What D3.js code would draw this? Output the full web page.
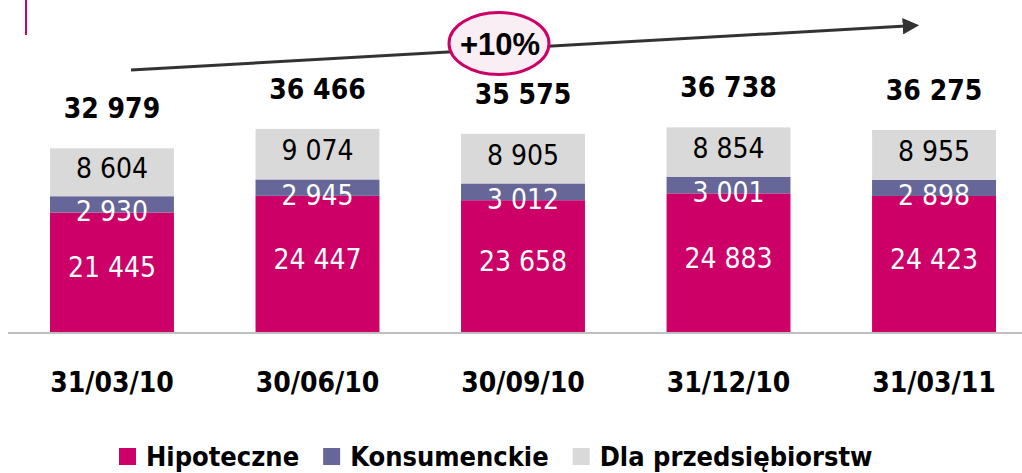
<!DOCTYPE html>
<html>
<head>
<meta charset="utf-8">
<script src="https://cdn.jsdelivr.net/npm/d3@7"></script>
<style>
  body { margin: 0; background: #fff; }
  svg { display: block; }
  .seg { font-family: "DejaVu Sans Condensed", "DejaVu Sans", sans-serif; font-size: 28px; }
  .total { font-family: "DejaVu Sans Condensed", "DejaVu Sans", sans-serif; font-size: 28px; font-weight: bold; }
  .cat { font-family: "DejaVu Sans Condensed", "DejaVu Sans", sans-serif; font-size: 28px; font-weight: bold; }
  .leg { font-family: "DejaVu Sans Condensed", "DejaVu Sans", sans-serif; font-size: 27px; font-weight: bold; }
  .growth { font-family: "Liberation Sans", Arial, sans-serif; font-size: 31px; font-weight: bold; }
</style>
</head>
<body>
<div id="chart"></div>
<script>
var categories = ["31/03/10", "30/06/10", "30/09/10", "31/12/10", "31/03/11"];
var seriesNames = ["Hipoteczne", "Konsumenckie", "Dla przedsiębiorstw"];
var hipoteczne = [21445, 24447, 23658, 24883, 24423];
var konsumenckie = [2930, 2945, 3012, 3001, 2898];
var przedsiebiorstwa = [8604, 9074, 8905, 8854, 8955];
var totals = [32979, 36466, 35575, 36738, 36275];
var growthLabel = "+10%";

var width = 1022, height = 473;
var colors = ["#cc0066", "#666699", "#d9d9d9"];
var labelColors = ["#fff", "#fff", "#000"];
var labelShift = [-5, 7, -4]; // nudge of value labels from segment middle

var fmt = function (v) {
  return d3.format(",")(v).replace(/,/g, " ");
};

var rows = categories.map(function (c, i) {
  return {
    cat: c,
    "Hipoteczne": hipoteczne[i],
    "Konsumenckie": konsumenckie[i],
    "Dla przedsiębiorstw": przedsiebiorstwa[i],
    total: totals[i]
  };
});

var stacked = d3.stack().keys(seriesNames)(rows);

var x = d3.scaleBand()
  .domain(categories)
  .range([16, 1030])
  .paddingInner(0.397)
  .paddingOuter(0.1655);

var y = d3.scaleLinear()
  .domain([0, 40000])
  .range([332, 109.2]);

var svg = d3.select("#chart").append("svg")
  .attr("width", width)
  .attr("height", height);

// small accent line top-left
svg.append("line")
  .attr("x1", 26).attr("x2", 26)
  .attr("y1", 0).attr("y2", 35)
  .attr("stroke", "#cc0066")
  .attr("stroke-width", 2);

var layers = svg.selectAll(".layer")
  .data(stacked)
  .enter()
  .append("g")
  .attr("class", "layer")
  .attr("fill", function (d, i) { return colors[i]; });

layers.selectAll("rect")
  .data(function (d) { return d; })
  .enter()
  .append("rect")
  .attr("x", function (d) { return x(d.data.cat); })
  .attr("width", x.bandwidth())
  .attr("y", function (d) { return y(d[1]); })
  .attr("height", function (d) { return y(d[0]) - y(d[1]); });

// baseline
svg.append("line")
  .attr("x1", 8).attr("x2", width)
  .attr("y1", y(0) + 1).attr("y2", y(0) + 1)
  .attr("stroke", "#bfbfbf")
  .attr("stroke-width", 2);

// value labels inside segments
stacked.forEach(function (layer, li) {
  svg.selectAll(".seg-" + li)
    .data(layer)
    .enter()
    .append("text")
    .attr("class", "seg seg-" + li)
    .attr("x", function (d) { return x(d.data.cat) + x.bandwidth() / 2; })
    .attr("y", function (d) { return (y(d[0]) + y(d[1])) / 2 + labelShift[li]; })
    .attr("dy", "0.36em")
    .attr("text-anchor", "middle")
    .attr("fill", labelColors[li])
    .text(function (d) { return fmt(d[1] - d[0]); });
});

// totals above bars
svg.selectAll(".total")
  .data(rows)
  .enter()
  .append("text")
  .attr("class", "total")
  .attr("x", function (d) { return x(d.cat) + x.bandwidth() / 2; })
  .attr("y", function (d) { return y(d3.sum(seriesNames, function (k) { return d[k]; })) - 30; })
  .attr("text-anchor", "middle")
  .attr("fill", "#000")
  .text(function (d) { return fmt(d.total); });

// category axis
var xAxis = svg.append("g")
  .attr("transform", "translate(0," + 392 + ")")
  .call(d3.axisBottom(x).tickSize(0).tickPadding(0));
xAxis.select(".domain").remove();
xAxis.attr("font-size", null).attr("font-family", null);
xAxis.selectAll("text")
  .attr("class", "cat")
  .attr("dy", 0)
  .attr("fill", "#000");

// growth arrow
var defs = svg.append("defs");
defs.append("marker")
  .attr("id", "arrowhead")
  .attr("viewBox", "0 0 10 10")
  .attr("refX", 2).attr("refY", 5)
  .attr("markerWidth", 5.5).attr("markerHeight", 5.5)
  .attr("markerUnits", "strokeWidth")
  .attr("orient", "auto")
  .append("path")
  .attr("d", "M0,0 L10,5 L0,10 z")
  .attr("fill", "#333");

svg.append("line")
  .attr("x1", 131).attr("y1", 70)
  .attr("x2", 906).attr("y2", 26)
  .attr("stroke", "#333")
  .attr("stroke-width", 3)
  .attr("marker-end", "url(#arrowhead)");

svg.append("ellipse")
  .attr("cx", 499).attr("cy", 43.5)
  .attr("rx", 50).attr("ry", 31)
  .attr("fill", "#f8eef3")
  .attr("stroke", "#cc0066")
  .attr("stroke-width", 3);

svg.append("text")
  .attr("class", "growth")
  .attr("x", 500).attr("y", 55)
  .attr("text-anchor", "middle")
  .attr("fill", "#000")
  .text(growthLabel);

// legend
var legend = svg.append("g").attr("transform", "translate(119,456)");
var lx = 0;
seriesNames.forEach(function (name, i) {
  var g = legend.append("g").attr("transform", "translate(" + lx + ",0)");
  g.append("rect")
    .attr("x", 0).attr("y", -8)
    .attr("width", 17).attr("height", 17)
    .attr("fill", colors[i]);
  var t = g.append("text")
    .attr("class", "leg")
    .attr("x", 27).attr("y", 0)
    .attr("dy", "0.36em")
    .attr("fill", "#000")
    .text(name);
  lx += 27 + t.node().getComputedTextLength() + 24;
});
</script>
</body>
</html>
